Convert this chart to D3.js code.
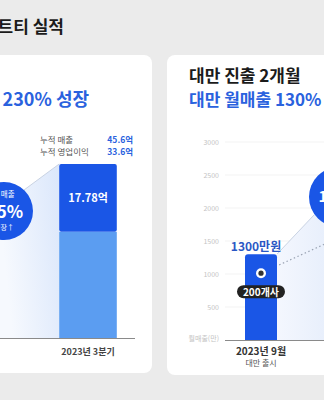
<!DOCTYPE html>
<html><head><meta charset="utf-8">
<script src="https://cdn.jsdelivr.net/npm/d3@7"></script>
<style>
html,body{margin:0;padding:0;background:#ebebeb;}
svg{display:block;font-family:"Noto Sans CJK KR","Noto Sans",sans-serif;}
</style></head><body>
<script>
// ---- data ----
const pageTitle = "파트티 실적";
const leftTitle = "누적 매출 230% 성장";
const leftCategories = ["2023년 3분기"];
const leftSegments = [27.82, 17.78];      // lower (light), upper (dark) in 억
const leftSegmentLabels = ["", "17.78억"];
const leftSummaryLabels = ["누적 매출", "누적 영업이익"];
const leftSummaryValues = ["45.6억", "33.6억"];
const leftCircleText = ["누적 매출", "25%", "성장↑"];

const rightTitle1 = "대만 진출 2개월";
const rightTitle2 = "대만 월매출 130% 성장";
const rightMonths = ["2023년 9월", "2023년 11월"];
const rightSubLabels = ["대만 출시", ""];
const rightValues = [1300, 2990];          // 만원
const rightStores = ["200개사", ""];
const rightTicks = [500, 1000, 1500, 2000, 2500, 3000];
const rightAxisLabel = "월매출(만)";
const rightCircleText = ["월매출", "130%", "성장↑"];

const W = 324, H = 400;
const BLUE = "#1a56e6", LIGHT = "#5b9df1", TBLUE = "#2a62de";

const svg = d3.select("body").append("svg").attr("width", W).attr("height", H);
const defs = svg.append("defs");

// title
svg.append("text").attr("x", 64).attr("y", 33).attr("text-anchor", "end")
  .attr("font-size", 17).attr("font-weight", 700).attr("fill", "#1b1b1b").text(pageTitle);

// panels
svg.append("rect").attr("x", -20).attr("y", 55).attr("width", 172).attr("height", 318).attr("rx", 8).attr("fill", "#fff");
svg.append("rect").attr("x", 167).attr("y", 55).attr("width", 180).attr("height", 320).attr("rx", 8).attr("fill", "#fff");

// ---------- LEFT ----------
svg.append("text").attr("x", 89).attr("y", 106).attr("text-anchor", "end")
  .attr("font-size", 18).attr("font-weight", 700).attr("fill", TBLUE).text(leftTitle);

leftSummaryLabels.forEach((l, i) => {
  svg.append("text").attr("x", 40).attr("y", 143 + i * 11.5).attr("font-size", 8.5)
    .attr("fill", "#555").text(l);
  svg.append("text").attr("x", 133).attr("y", 143 + i * 11.5).attr("text-anchor", "end")
    .attr("font-size", 8.5).attr("font-weight", 700).attr("fill", TBLUE).text(leftSummaryValues[i]);
});

const lx = d3.scaleBand().domain(leftCategories).range([40, 136]).padding(0.25);
const lTotal = d3.sum(leftSegments);
const ly = d3.scaleLinear().domain([0, lTotal]).range([338, 164]);

const lg = defs.append("linearGradient").attr("id", "lfan").attr("x1", "1").attr("x2", "0").attr("y1", "0").attr("y2", "0.3");
lg.append("stop").attr("offset", "0").attr("stop-color", "#dbe7fb");
lg.append("stop").attr("offset", "1").attr("stop-color", "#f6f9fe");

const lbx = lx(leftCategories[0]);
const lCircle = {cx: 4, cy: 211, r: 29};
// fan area
svg.append("path").attr("fill", "url(#lfan)")
  .attr("d", d3.line()([[lCircle.cx + 20, lCircle.cy - 21], [lbx, ly(lTotal)], [lbx, ly(0)], [0, ly(0)], [0, lCircle.cy]]));
svg.append("line").attr("x1", lCircle.cx + 20).attr("y1", lCircle.cy - 21).attr("x2", lbx).attr("y2", ly(lTotal))
  .attr("stroke", "#c9d3e3").attr("stroke-width", 1);

// stacked bar
let acc = 0;
leftSegments.forEach((v, i) => {
  const y0 = ly(acc), y1 = ly(acc + v);
  svg.append("rect").attr("x", lbx).attr("y", y1).attr("width", lx.bandwidth()).attr("height", y0 - y1)
    .attr("fill", i === 0 ? LIGHT : BLUE).attr("rx", i === 1 ? 2 : 0);
  if (leftSegmentLabels[i]) {
    svg.append("text").attr("x", lbx + lx.bandwidth() / 2).attr("y", y1 + 38).attr("text-anchor", "middle")
      .attr("font-size", 11).attr("font-weight", 700).attr("fill", "#fff").text(leftSegmentLabels[i]);
  }
  acc += v;
});
svg.append("line").attr("x1", 0).attr("x2", 135).attr("y1", ly(0) + 0.5).attr("y2", ly(0) + 0.5).attr("stroke", "#8a8a8a");
svg.append("text").attr("x", lbx + lx.bandwidth() / 2).attr("y", 355).attr("text-anchor", "middle")
  .attr("font-size", 9).attr("font-weight", 700).attr("fill", "#444").text(leftCategories[0]);

// left circle
svg.append("circle").attr("cx", lCircle.cx).attr("cy", lCircle.cy).attr("r", lCircle.r).attr("fill", BLUE);
svg.append("text").attr("x", 0).attr("y", 197).attr("text-anchor", "middle").attr("font-size", 7.5).attr("fill", "#fff").text(leftCircleText[0]);
svg.append("text").attr("x", 5).attr("y", 218).attr("text-anchor", "middle").attr("font-size", 17).attr("font-weight", 700).attr("fill", "#fff").text(leftCircleText[1]);
svg.append("text").attr("x", 4).attr("y", 230).attr("text-anchor", "middle").attr("font-size", 7).attr("fill", "#fff").text(leftCircleText[2]);

// ---------- RIGHT ----------
svg.append("text").attr("x", 189).attr("y", 82).attr("font-size", 17).attr("font-weight", 700).attr("fill", "#1b1b1b").text(rightTitle1);
svg.append("text").attr("x", 189).attr("y", 106).attr("font-size", 17).attr("font-weight", 700).attr("fill", TBLUE).text(rightTitle2);

const ry = d3.scaleLinear().domain([0, 3000]).range([340, 142]);
const rx = d3.scalePoint().domain(rightMonths).range([261, 505]);
const barW = 32;

// gridlines + tick labels
rightTicks.forEach(t => {
  svg.append("line").attr("x1", 225).attr("x2", W).attr("y1", ry(t)).attr("y2", ry(t)).attr("stroke", "#f3f3f3");
  svg.append("text").attr("x", 219).attr("y", ry(t) + 2.5).attr("text-anchor", "end")
    .attr("font-size", 7).attr("fill", "#c4c4c4").text(t);
});
svg.append("text").attr("x", 219).attr("y", ry(0) + 1).attr("text-anchor", "end")
  .attr("font-size", 7).attr("fill", "#c4c4c4").text(rightAxisLabel);

// fan on right
const rCircle = {cx: 339, cy: 197, r: 30};
const b0x = rx(rightMonths[0]);
const rg = defs.append("linearGradient").attr("id", "rfan").attr("x1", "0").attr("x2", "1").attr("y1", "0").attr("y2", "0");
rg.append("stop").attr("offset", "0").attr("stop-color", "#f4f7fe");
rg.append("stop").attr("offset", "1").attr("stop-color", "#e3ecfb");
svg.append("path").attr("fill", "url(#rfan)")
  .attr("d", d3.line()([[b0x + barW / 2, ry(rightValues[0])], [rCircle.cx - 25, rCircle.cy + 18], [W + 20, rCircle.cy + 18], [W + 20, ry(0)], [b0x + barW / 2, ry(0)]]));
svg.append("line").attr("x1", b0x + barW / 2).attr("y1", ry(rightValues[0])).attr("x2", rCircle.cx - 25).attr("y2", rCircle.cy + 18)
  .attr("stroke", "#c9d3e3");

// axis baseline
svg.append("line").attr("x1", 225).attr("x2", W).attr("y1", ry(0) + 0.5).attr("y2", ry(0) + 0.5).attr("stroke", "#8a8a8a");

// dotted line between markers
const markerOff = 19;
svg.append("path").attr("fill", "none").attr("stroke", "#9aa3b3").attr("stroke-width", 1.2).attr("stroke-dasharray", "1.5,2.5")
  .attr("d", d3.line()(rightMonths.map((m, i) => [rx(m), ry(rightValues[i]) + markerOff])));

// bars
rightMonths.forEach((m, i) => {
  const x = rx(m), yt = ry(rightValues[i]);
  svg.append("path").attr("fill", BLUE)
    .attr("d", `M${x - barW / 2},${ry(0)}V${yt + 3}Q${x - barW / 2},${yt} ${x - barW / 2 + 3},${yt}H${x + barW / 2 - 3}Q${x + barW / 2},${yt} ${x + barW / 2},${yt + 3}V${ry(0)}Z`);
  svg.append("circle").attr("cx", x).attr("cy", yt + markerOff).attr("r", 5).attr("fill", "#fff");
  svg.append("circle").attr("cx", x).attr("cy", yt + markerOff).attr("r", 2.6).attr("fill", "#333");
  svg.append("text").attr("x", x - 5).attr("y", yt - 3).attr("text-anchor", "middle")
    .attr("font-size", 12).attr("font-weight", 700).attr("fill", "#2a57c4").text(rightValues[i] + "만원");
  if (rightStores[i]) {
    const g = svg.append("g");
    g.append("rect").attr("x", x - 24).attr("y", yt + 31).attr("width", 48).attr("height", 13).attr("rx", 6.5).attr("fill", "#222");
    g.append("text").attr("x", x).attr("y", yt + 41.5).attr("text-anchor", "middle").attr("font-size", 10)
      .attr("font-weight", 700).attr("fill", "#fff").text(rightStores[i]);
  }
  svg.append("text").attr("x", x).attr("y", 355).attr("text-anchor", "middle").attr("font-size", 10)
    .attr("font-weight", 700).attr("fill", "#333").text(m);
  svg.append("text").attr("x", x).attr("y", 366).attr("text-anchor", "middle").attr("font-size", 8)
    .attr("fill", "#555").text(rightSubLabels[i]);
});

// right circle
svg.append("circle").attr("cx", rCircle.cx).attr("cy", rCircle.cy).attr("r", rCircle.r).attr("fill", BLUE);
svg.append("text").attr("x", rCircle.cx).attr("y", 183).attr("text-anchor", "middle").attr("font-size", 8).attr("fill", "#fff").text(rightCircleText[0]);
svg.append("text").attr("x", rCircle.cx).attr("y", 202).attr("text-anchor", "middle").attr("font-size", 15).attr("font-weight", 700).attr("fill", "#fff").text(rightCircleText[1]);
svg.append("text").attr("x", rCircle.cx).attr("y", 215).attr("text-anchor", "middle").attr("font-size", 8).attr("fill", "#fff").text(rightCircleText[2]);
</script>
</body></html>
